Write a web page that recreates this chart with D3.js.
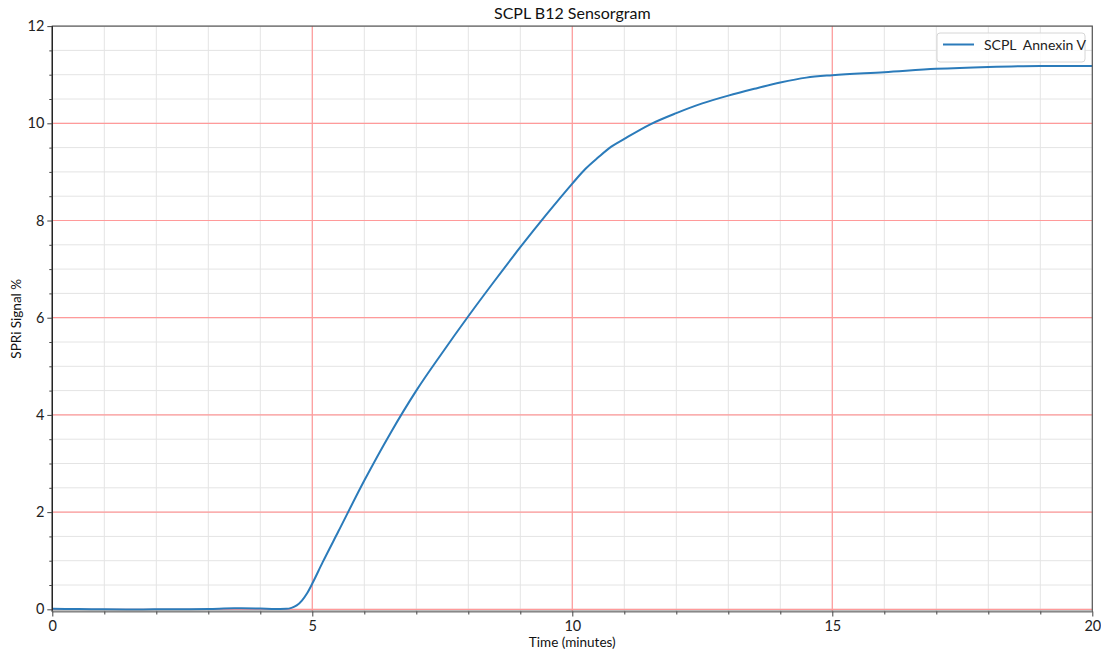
<!DOCTYPE html>
<html><head><meta charset="utf-8">
<script src="https://cdn.jsdelivr.net/npm/d3@7"></script>
<style>body{margin:0;background:#fff;} text{font-family:Lato,"Open Sans",sans-serif;}</style>
</head><body>
<svg id="c" width="1101" height="653"></svg>
<script>
const title = "SCPL B12 Sensorgram";
const xLabel = "Time (minutes)";
const yLabel = "SPRi Signal %";
const seriesName = "SCPL  Annexin V";
const xTicks = [0, 5, 10, 15, 20];
const yTicks = [0, 2, 4, 6, 8, 10, 12];
const timeMin = [0, 0.5, 1, 1.5, 2, 2.5, 3, 3.5, 4, 4.3, 4.5, 4.6, 4.7, 4.8, 4.9, 5.0, 5.2, 5.5, 6.0, 6.5, 7.0, 7.5, 8.0, 8.5, 9.0, 9.5, 10.0, 10.25, 10.5, 10.75, 11.0, 11.5, 12.0, 12.5, 13.0, 13.5, 14.0, 14.5, 15.0, 16.0, 17.0, 18.0, 19.0, 20.0];
const signal = [0.01, 0.005, 0.0, -0.005, 0.0, 0.0, 0.005, 0.02, 0.015, 0.008, 0.01, 0.03, 0.08, 0.18, 0.33, 0.53, 0.97, 1.6, 2.65, 3.62, 4.5, 5.28, 6.03, 6.75, 7.45, 8.12, 8.76, 9.06, 9.3, 9.52, 9.68, 9.98, 10.21, 10.41, 10.57, 10.71, 10.84, 10.94, 10.99, 11.05, 11.12, 11.16, 11.18, 11.18];

const svg = d3.select("#c");
const L = 52.3, R = 1092.3, T = 26.1, B = 611.5;
const x = d3.scaleLinear().domain([0, 20]).range([L, R]);
const y = d3.scaleLinear().domain([-0.045, 12]).range([B, T]);

const g = svg.append("g");
// minor grid
g.selectAll(".mx").data(d3.range(0, 21, 1)).join("line")
  .attr("x1", d => x(d)).attr("x2", d => x(d)).attr("y1", T).attr("y2", B)
  .attr("stroke", "#e4e4e4").attr("stroke-width", 1);
g.selectAll(".my").data(d3.range(0, 12.01, 0.5)).join("line")
  .attr("x1", L).attr("x2", R).attr("y1", d => y(d)).attr("y2", d => y(d))
  .attr("stroke", "#e4e4e4").attr("stroke-width", 1);
// major grid
g.selectAll(".Mx").data(xTicks.slice(1, -1)).join("line")
  .attr("x1", d => x(d)).attr("x2", d => x(d)).attr("y1", T).attr("y2", B)
  .attr("stroke", "#ff9a9a").attr("stroke-width", 1.2);
g.selectAll(".My").data(yTicks.slice(0, -1)).join("line")
  .attr("x1", L).attr("x2", R).attr("y1", d => y(d)).attr("y2", d => y(d))
  .attr("stroke", "#ff9a9a").attr("stroke-width", 1.2);

// line
const pts = timeMin.map((t, i) => [t, signal[i]]);
svg.append("path").datum(pts)
  .attr("d", d3.line().x(d => x(d[0])).y(d => y(d[1])).curve(d3.curveMonotoneX))
  .attr("fill", "none").attr("stroke", "#2b7bba").attr("stroke-width", 2);

// spines
svg.append("rect").attr("x", L).attr("y", T).attr("width", R - L).attr("height", B - T)
  .attr("fill", "none").attr("stroke", "#555").attr("stroke-width", 1.2);
svg.append("line").attr("x1", L).attr("x2", L).attr("y1", T).attr("y2", B).attr("stroke", "#222").attr("stroke-width", 1.3);
svg.append("line").attr("x1", L).attr("x2", R).attr("y1", B).attr("y2", B).attr("stroke", "#888").attr("stroke-width", 1.8);

// axes
const xAxis = d3.axisBottom(x).tickValues(xTicks).tickSize(5).tickPadding(4).tickFormat(d3.format("d"));
const xa = svg.append("g").attr("transform", `translate(0,${B})`).call(xAxis);
const xMinor = svg.append("g").attr("transform", `translate(0,${B})`)
  .call(d3.axisBottom(x).tickValues(d3.range(1, 20, 1).filter(d => d % 5)).tickSize(3).tickFormat(""));
const yAxis = d3.axisLeft(y).tickValues(yTicks).tickSize(5).tickPadding(3).tickFormat(d3.format("d"));
const ya = svg.append("g").attr("transform", `translate(${L},0)`).call(yAxis);
const yMinor = svg.append("g").attr("transform", `translate(${L},0)`)
  .call(d3.axisLeft(y).tickValues(d3.range(0.5, 12, 0.5).filter(d => d % 2)).tickSize(3).tickFormat(""));
[xa, ya, xMinor, yMinor].forEach(a => {
  a.select(".domain").remove();
  a.selectAll("line").attr("stroke", "#444");
  a.selectAll("text").attr("font-size", 14.5).attr("fill", "#222").style("font-family", "Lato, sans-serif");
});

// labels
svg.append("text").attr("x", (L + R) / 2).attr("y", 19).attr("text-anchor", "middle")
  .attr("font-size", 16).attr("fill", "#111").text(title);
svg.append("text").attr("x", (L + R) / 2).attr("y", 647).attr("text-anchor", "middle")
  .attr("font-size", 13.5).attr("fill", "#111").text(xLabel);
svg.append("text").attr("transform", `translate(21,${(T + B) / 2}) rotate(-90)`).attr("text-anchor", "middle")
  .attr("font-size", 13.5).attr("fill", "#111").text(yLabel);

// legend
const lg = svg.append("g").attr("transform", "translate(937,33)");
lg.append("rect").attr("width", 148).attr("height", 29).attr("rx", 3)
  .attr("fill", "#fff").attr("fill-opacity", 0.85).attr("stroke", "#d6d6d6");
lg.append("line").attr("x1", 6).attr("x2", 37).attr("y1", 11.5).attr("y2", 11.5)
  .attr("stroke", "#2b7bba").attr("stroke-width", 2);
lg.append("text").attr("x", 47).attr("y", 17).attr("font-size", 14).attr("fill", "#222")
  .style("white-space", "pre").text(seriesName);
</script>
</body></html>
